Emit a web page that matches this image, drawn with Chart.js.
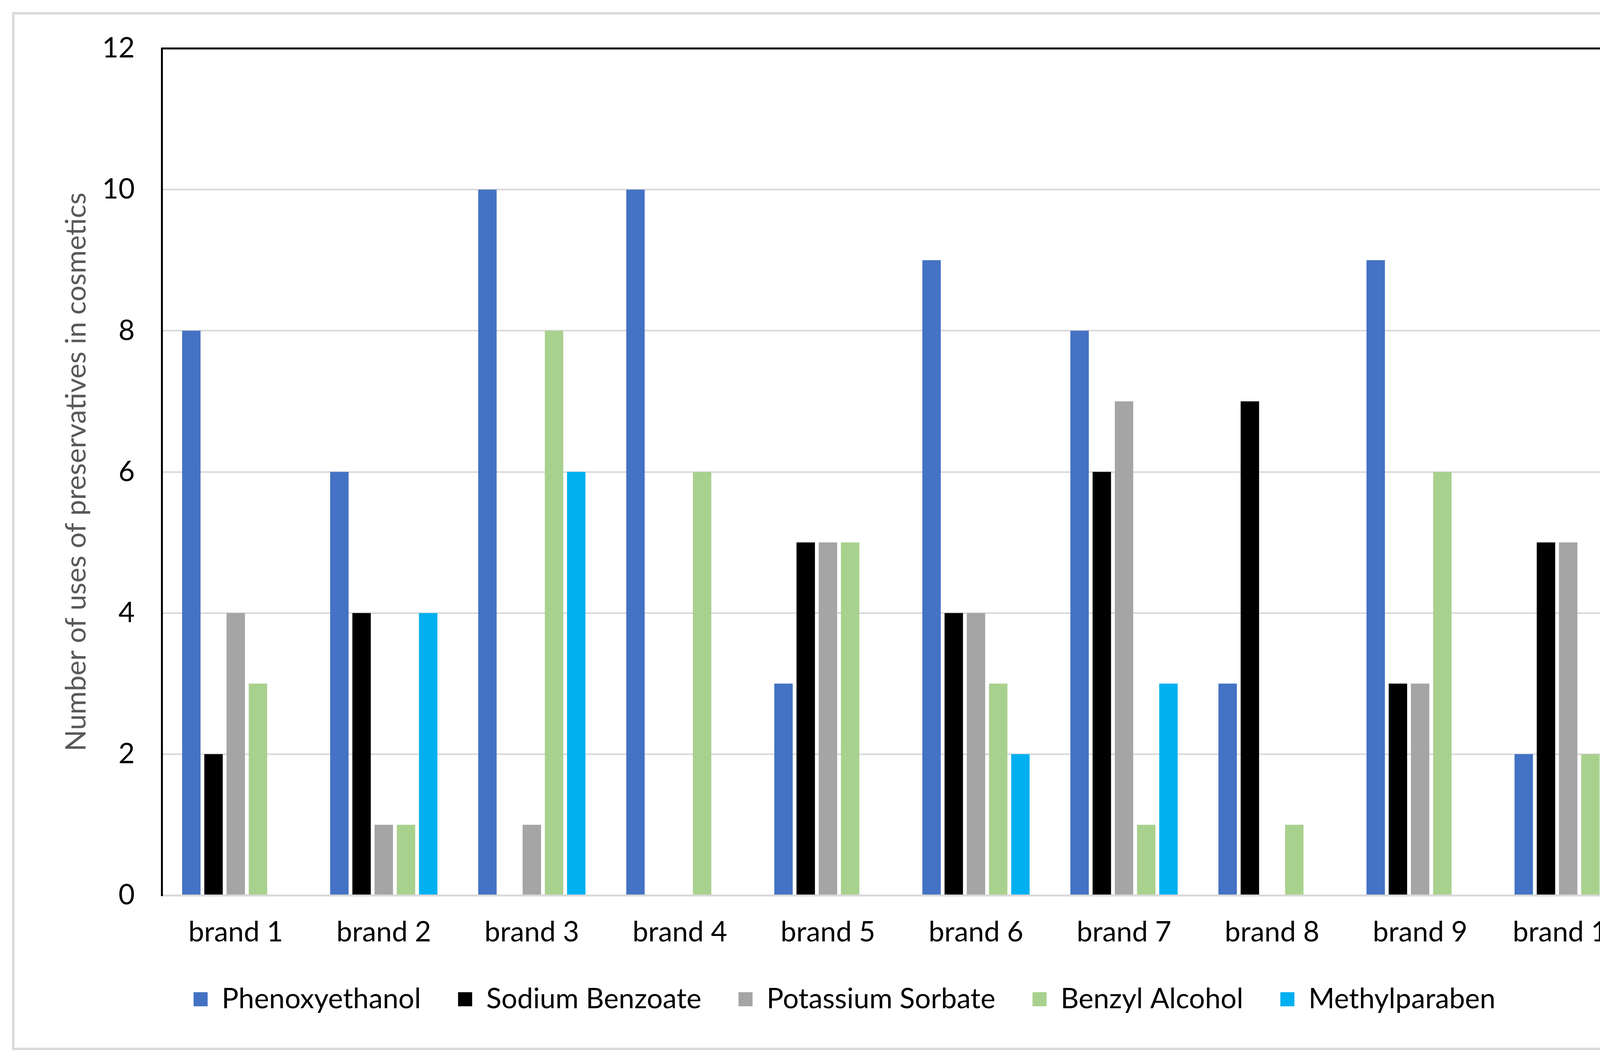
<!DOCTYPE html>
<html>
<head>
<meta charset="utf-8">
<script src="https://cdn.jsdelivr.net/npm/chart.js@4"></script>
<style>
  html, body { margin: 0; padding: 0; background: #fff; }
  #wrap { position: relative; width: 4331px; height: 2715px; }
  #frame {
    position: absolute; left: 31px; top: 31px; width: 4269px; height: 2656px;
    box-sizing: border-box; border: 6px solid #d9d9d9; pointer-events: none;
  }
</style>
</head>
<body>
<div id="wrap">
  <canvas id="chart-1"></canvas>
  <div id="frame"></div>
</div>
<script>
const brands = ['brand 1', 'brand 2', 'brand 3', 'brand 4', 'brand 5', 'brand 6', 'brand 7', 'brand 8', 'brand 9', 'brand 10'];
const phenoxyethanol = [8, 6, 10, 10, 3, 9, 8, 3, 9, 2];
const sodiumBenzoate = [2, 4, 0, 0, 5, 4, 6, 7, 3, 5];
const potassiumSorbate = [4, 1, 1, 0, 5, 4, 7, 0, 3, 5];
const benzylAlcohol = [3, 1, 8, 6, 5, 3, 1, 1, 6, 2];
const methylparaben = [0, 4, 6, 0, 0, 2, 3, 0, 0, 2];
const yTicks = [0, 2, 4, 6, 8, 10, 12];

const FONT = 'Lato, "Open Sans", sans-serif';

// black frame on top and right of the plot area
const plotBox = {
  id: 'plotBox',
  afterDatasetsDraw(chart) {
    const { ctx, chartArea: a } = chart;
    ctx.save();
    ctx.strokeStyle = '#000';
    ctx.lineWidth = 5;
    ctx.beginPath();
    ctx.moveTo(a.left, a.top);
    ctx.lineTo(a.right, a.top);
    ctx.lineTo(a.right, a.bottom);
    ctx.stroke();
    ctx.restore();
  },
};

const initChart1 = () => {
  const data = {
    labels: brands,
    datasets: [
      { label: 'Phenoxyethanol', data: phenoxyethanol, backgroundColor: '#4472c4' },
      { label: 'Sodium Benzoate', data: sodiumBenzoate, backgroundColor: '#000000' },
      { label: 'Potassium Sorbate', data: potassiumSorbate, backgroundColor: '#a5a5a5' },
      { label: 'Benzyl Alcohol', data: benzylAlcohol, backgroundColor: '#a9d18e' },
      { label: 'Methylparaben', data: methylparaben, backgroundColor: '#00b0f0' },
    ],
  };

  const config = {
    type: 'bar',
    data: data,
    plugins: [plotBox],
    options: {
      responsive: true,
      maintainAspectRatio: false,
      animation: false,
      devicePixelRatio: 1,
      datasets: {
        bar: { categoryPercentage: 0.75, barPercentage: 0.83 },
      },
      layout: {
        padding: { left: 120, right: 127, top: 124, bottom: 112 },
      },
      scales: {
        x: {
          grid: { display: false },
          border: { display: true, color: '#d9d9d9', width: 5 },
          ticks: {
            color: '#000',
            padding: 44,
            maxRotation: 0,
            font: { family: FONT, size: 72 },
          },
          afterFit: (s) => { s.height = 135; },
        },
        y: {
          min: 0,
          max: 12,
          afterBuildTicks: (s) => { s.ticks = yTicks.map((v) => ({ value: v })); },
          grid: { color: '#d9d9d9', lineWidth: 4, drawTicks: false },
          border: { display: true, color: '#000', width: 5 },
          ticks: {
            color: '#000',
            padding: 69,
            font: { family: FONT, size: 72 },
          },
          title: {
            display: true,
            text: 'Number of uses of preservatives in cosmetics',
            color: '#595959',
            padding: { top: 33, bottom: 0 },
            font: { family: FONT, size: 72, weight: 'normal' },
          },
          afterFit: (s) => { s.width = 294; },
        },
      },
      plugins: {
        legend: {
          position: 'bottom',
          labels: {
            color: '#000',
            boxWidth: 36,
            boxHeight: 36,
            padding: 95,
            font: { family: FONT, size: 72 },
          },
        },
        tooltip: { enabled: false },
      },
    },
  };

  return new Chart(document.getElementById('chart-1'), config);
};

const chart1 = initChart1();
</script>
</body>
</html>
